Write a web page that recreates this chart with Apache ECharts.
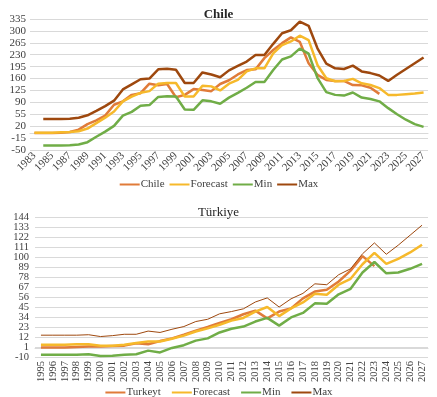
<!DOCTYPE html>
<html><head><meta charset="utf-8">
<script src="https://cdn.jsdelivr.net/npm/echarts@6/dist/echarts.min.js"></script>
<style>html,body{margin:0;padding:0;background:#fff}#c1{width:437px;height:198px}#c2{width:437px;height:199px}</style>
</head><body><div id="c1"></div><div id="c2"></div>
<script>
// ---- Chile ----
const chileYears = ['1983','1984','1985','1986','1987','1988','1989','1990','1991','1992','1993','1994','1995','1996','1997','1998','1999','2000','2001','2002','2003','2004','2005','2006','2007','2008','2009','2010','2011','2012','2013','2014','2015','2016','2017','2018','2019','2020','2021','2022','2023','2024','2025','2026','2027'];
const chileActual = [0,0,0,1,3,10,26,37,51,83,93,112,117,145,140,144,105,112,129,126,123,144,155,172,185,187,220,244,264,281,268,205,171,156,153,153,141,140,133,115,null,null,null,null,null];
const chileForecast = [1,1,1,2,3,5,13,29,45,63,93,107,118,123,145,147,147,107,107,139,137,125,145,156,181,190,190,234,258,269,286,273,200,161,152,153,159,146,141,132,112,112,114,116,119];
const chileMin = [null,-37,-37,-37,-36,-34,-27,-11,4,21,51,62,80,82,106,108,107,69,68,96,93,86,104,118,133,150,150,185,216,225,248,233,162,120,112,110,119,104,100,93,73,55,39,26,18];
const chileMax = [null,41,41,41,42,45,52,65,79,95,128,143,158,160,187,189,186,147,147,178,172,164,184,197,210,229,229,262,293,302,327,315,249,204,190,188,198,181,176,169,153,171,188,205,222];
const chileTicks = [-50,-15,20,55,90,125,160,195,230,265,300,335];

// ---- Türkiye ----
const trYears = ['1995','1996','1997','1998','1999','2000','2001','2002','2003','2004','2005','2006','2007','2008','2009','2010','2011','2012','2013','2014','2015','2016','2017','2018','2019','2020','2021','2022','2023','2024','2025','2026','2027'];
const trActual = [0.5,0.5,0.5,1,1.5,1.5,2,2.5,5,4,7.5,10.5,14.5,19,23,27.5,31.5,37,41,32.5,40,43.5,54.5,62,64,73,85,101,90,null,null,null,null];
const trForecast = [3.5,3.5,3.5,4,4,2.5,2.5,3.5,5.5,7,7,10,13.5,18,21.5,25.5,30,33,40,45,35,43.5,50,59.5,58.5,69.5,76,92,104.5,92.5,98,105,113.5];
const trMin = [-7.5,-7.5,-7.5,-7.5,-7,-9,-8.5,-7.5,-7,-3,-5,0,3,8,10.5,17,21,23.5,29,33,24.5,33.5,38.5,49,48.5,59,65,83,94.5,82,83,87,92.5];
const trMax = [14,14,14,14,14.5,12.5,13.5,15,15,18.5,17,20.5,23.5,29,31.5,37.5,40,43,50.5,55,45,54,60,70.5,69.5,80.5,87,103.5,115.5,103,113,124,135];
const trTicks = [-10,1,12,23,34,45,56,67,78,89,100,111,122,133,144];

const FONT = 'Liberation Serif';
const C_ACT = '#E07B39', C_FC = '#F6B92B', C_MIN = '#70AD47', C_MAX = '#9E480E';
const TXT = '#404040', GRID = '#D9D9D9';

function build(el, cfg) {
  const chart = echarts.init(document.getElementById(el), null, {renderer: 'canvas'});
  const mk = (name, data, color, width) => ({
    name, type: 'line', data, symbol: 'none', smooth: false, connectNulls: false,
    lineStyle: {color, width}, itemStyle: {color}
  });
  // split tick labels over two overlaid axes so none are hidden for overlap
  const evenTicks = cfg.ticks.filter((_, i) => i % 2 === 0);
  const oddTicks = cfg.ticks.filter((_, i) => i % 2 === 1);
  const yBase = {type: 'value', min: cfg.min, max: cfg.max, interval: cfg.interval, position: 'left',
    axisLine: {show: false}};
  const lab = vals => ({fontFamily: FONT, fontSize: cfg.yFont, color: TXT, margin: cfg.yMargin,
    customValues: vals, hideOverlap: false});
  chart.setOption({
    animation: false,
    backgroundColor: '#fff',
    title: {text: cfg.title, left: 'center', top: 3,
      textStyle: {fontFamily: FONT, fontSize: 13, fontWeight: cfg.titleWeight, color: '#262626'}},
    legend: {top: cfg.legendTop, left: 'center', itemWidth: 20, itemHeight: 8, itemGap: cfg.legendGap,
      itemStyle: {color: 'rgba(0,0,0,0)', borderWidth: 0, opacity: 0},
      textStyle: {fontFamily: FONT, fontSize: 11, color: TXT, padding: [0,0,0,-4]},
      data: cfg.names},
    grid: cfg.grid,
    xAxis: {type: 'category', data: cfg.cats, boundaryGap: true,
      axisLine: {show: true, lineStyle: {color: GRID}},
      axisTick: {show: false},
      axisLabel: {fontFamily: FONT, fontSize: cfg.xFont, color: TXT, rotate: cfg.rotate, interval: cfg.labelInterval, margin: 4}},
    yAxis: [
      Object.assign({}, yBase, {
        axisTick: {show: false, customValues: cfg.ticks},
        splitLine: {show: true, lineStyle: {color: GRID, width: 1}},
        axisLabel: lab(evenTicks)}),
      Object.assign({}, yBase, {
        axisTick: {show: false, customValues: oddTicks},
        splitLine: {show: false},
        axisLabel: lab(oddTicks)})
    ],
    series: cfg.series.map(s => mk(s[0], s[1], s[2], s[3]))
  });
}

build('c1', {
  title: 'Chile', titleWeight: 'bold', cats: chileYears,
  grid: {left: 30, right: 9, top: 19, bottom: 48},
  min: -50, max: 335, interval: 35, ticks: chileTicks, yMargin: 4, yFont: 11, xFont: 11,
  rotate: 45, labelInterval: 1, legendTop: 174, legendGap: 4,
  names: ['Chile','Forecast','Min','Max'],
  series: [['Chile', chileActual, C_ACT, 2.5], ['Forecast', chileForecast, C_FC, 2.5],
           ['Min', chileMin, C_MIN, 2.5], ['Max', chileMax, C_MAX, 2.5]]
});
build('c2', {
  title: 'Türkiye', titleWeight: 'normal', cats: trYears,
  grid: {left: 35, right: 9, top: 19, bottom: 40},
  min: -10, max: 144, interval: 11, ticks: trTicks, yMargin: 6, yFont: 10.5, xFont: 10.5,
  rotate: 90, labelInterval: 0, legendTop: 184, legendGap: 10,
  names: ['Turkeyt','Forecast','Min','Max'],
  series: [['Turkeyt', trActual, C_ACT, 2.5], ['Forecast', trForecast, C_FC, 2.5],
           ['Min', trMin, C_MIN, 2.5], ['Max', trMax, C_MAX, 1]]
});
</script></body></html>
